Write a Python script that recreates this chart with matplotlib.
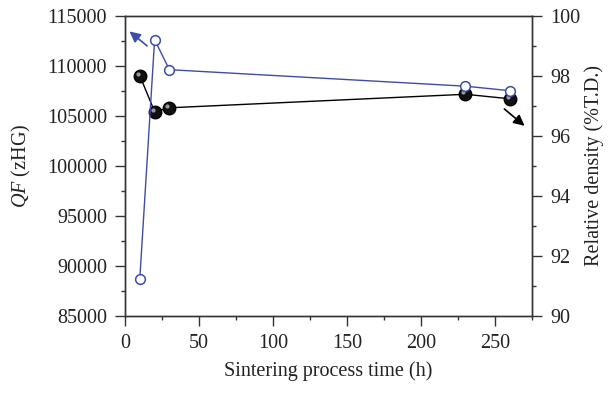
import matplotlib
matplotlib.use("Agg")
import matplotlib.pyplot as plt
from matplotlib.ticker import MultipleLocator

# data
time_h = [10, 20, 30, 230, 260]
qf = [88700, 112600, 109600, 107950, 107500]
density = [98.0, 96.8, 96.93, 97.38, 97.23]

blue = "#3d4ca6"
plt.rcParams['font.family'] = ['Liberation Serif', 'DejaVu Serif']
plt.rcParams['font.size'] = 14.5
plt.rcParams['mathtext.fontset'] = 'custom'
plt.rcParams['mathtext.it'] = 'Liberation Serif:italic'

fig = plt.figure(figsize=(6.14, 3.96), dpi=100)
ax = fig.add_axes([0.2036, 0.2028, 0.6628, 0.7576])
ax2 = ax.twinx()

# density (right axis), shaded black spheres
ax2.plot(time_h, density, color="black", lw=1.0, zorder=2)
ax2.plot(time_h, density, ls="none", marker="o", ms=9, mfc="#111111", mec="#000000", zorder=3)
ax2.plot(time_h, density, ls="none", marker="o", ms=3, mfc="#9a9a9a", mec="none",
         transform=ax2.transData + matplotlib.transforms.ScaledTranslation(-1.5/72, 1.5/72, fig.dpi_scale_trans),
         zorder=4)

# QF (left axis), open circles
ax.plot(time_h, qf, color=blue, lw=1.0, marker="o", ms=7, mfc="white", mec=blue, mew=1.1, zorder=2)
ax.set_zorder(ax2.get_zorder() + 1)
ax.patch.set_visible(False)

ax.annotate("", xy=(1.6, 113600), xytext=(16.4, 111800),
            arrowprops=dict(arrowstyle="-|>", color=blue, lw=1.2, mutation_scale=16))
ax2.annotate("", xy=(271.4, 96.27), xytext=(254.9, 96.95),
             arrowprops=dict(arrowstyle="-|>", color="black", lw=1.2, mutation_scale=16))

ax.set_xlim(0, 275)
ax.set_ylim(85000, 115000)
ax2.set_ylim(90, 100)
ax.xaxis.set_major_locator(MultipleLocator(50))
ax.xaxis.set_minor_locator(MultipleLocator(25))
ax.yaxis.set_major_locator(MultipleLocator(5000))
ax.yaxis.set_minor_locator(MultipleLocator(2500))
ax2.yaxis.set_major_locator(MultipleLocator(2))
ax2.yaxis.set_minor_locator(MultipleLocator(1))

for a in (ax, ax2):
    a.tick_params(which="major", direction="out", length=7, width=1, colors="#333333",
                  labelcolor="#222222", pad=6)
    a.tick_params(which="minor", direction="out", length=3, width=1, colors="#333333")
    for s in a.spines.values():
        s.set_color("#333333")
        s.set_linewidth(1.0)

ax.set_xlabel("Sintering process time (h)", labelpad=6, color="#222222")
ax.set_ylabel(r"$QF$ (zHG)", color="#222222", labelpad=10)
ax2.set_ylabel("Relative density (%T.D.)", color="#222222", labelpad=3)

fig.savefig("out.png", dpi=100)
